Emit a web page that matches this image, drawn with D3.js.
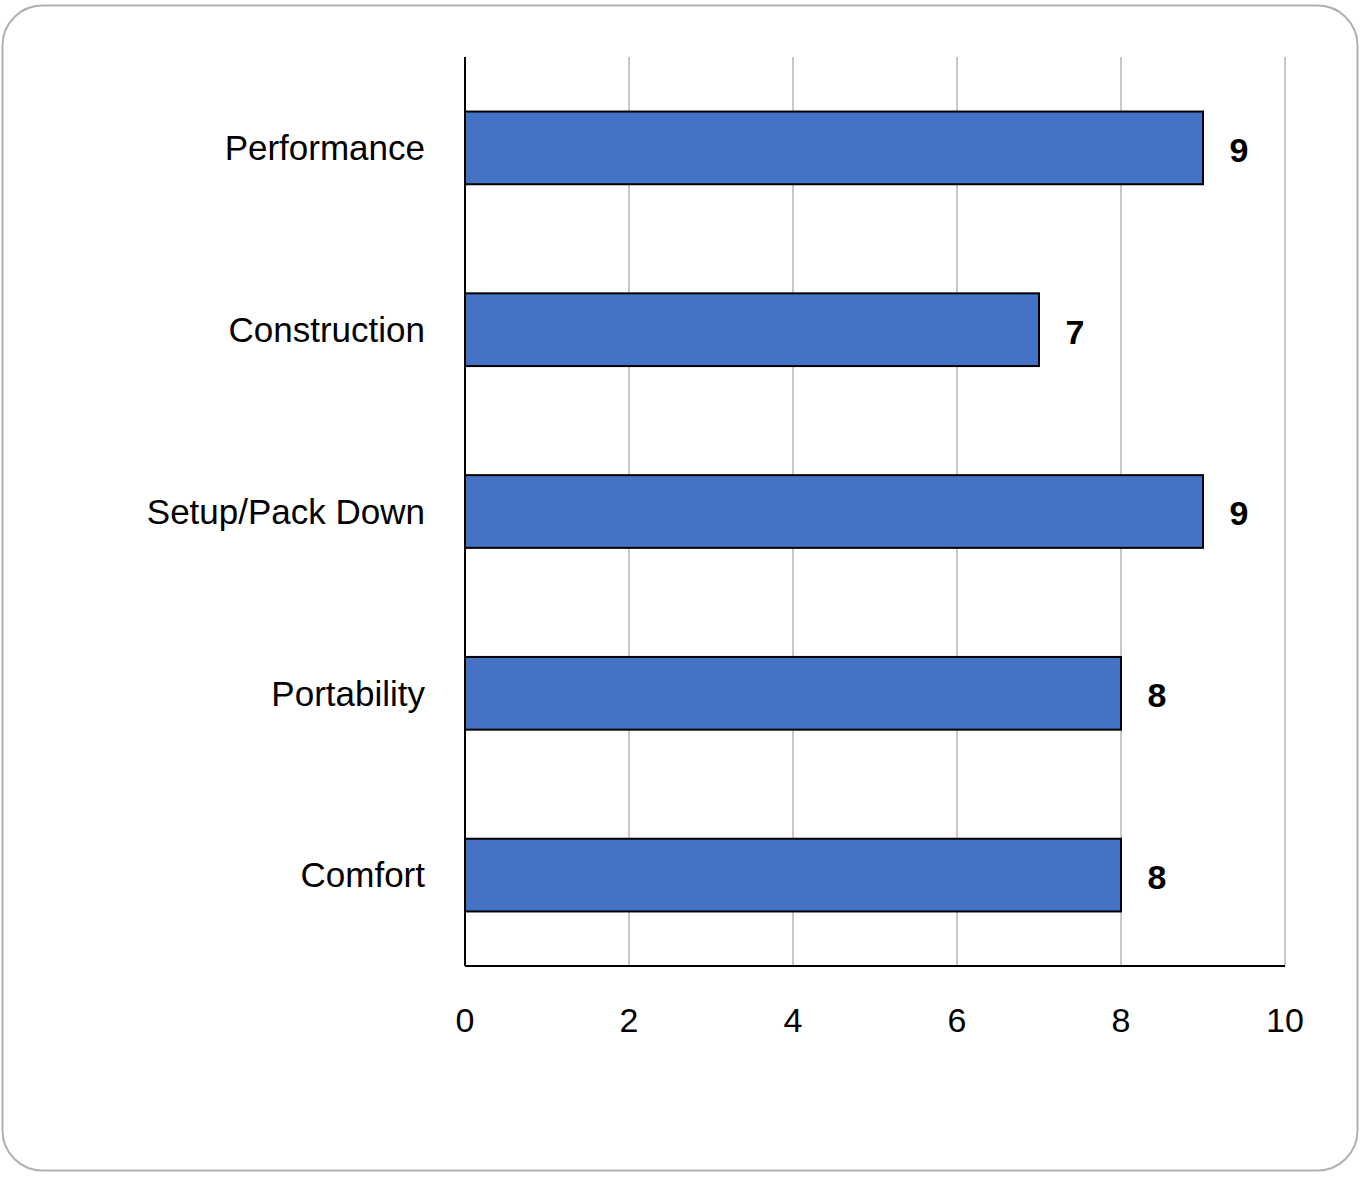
<!DOCTYPE html>
<meta charset="utf-8">
<style>
body { margin: 0; background: #fff; }
text { font-family: "Liberation Sans", Arial, sans-serif; fill: #000; }
</style>
<svg width="1365" height="1177"></svg>
<script src="https://d3js.org/d3.v7.min.js"></script>
<script>

var categories = ["Performance", "Construction", "Setup/Pack Down", "Portability", "Comfort"];
var values = [9, 7, 9, 8, 8];
var ticks = [0, 2, 4, 6, 8, 10];

var svg = d3.select("svg");

// outer frame
svg.append("rect")
    .attr("x", 2.5).attr("y", 5.5)
    .attr("width", 1355).attr("height", 1165)
    .attr("rx", 40).attr("ry", 40)
    .attr("fill", "#fff")
    .attr("stroke", "#b0b0b0")
    .attr("stroke-width", 2);

var x = d3.scaleLinear().domain([0, 10]).range([465, 1285]);
var y = d3.scaleBand().domain(categories).range([57, 966]).paddingInner(0.6).paddingOuter(0.3);

// gridlines
svg.append("g").selectAll("line")
    .data(ticks.slice(1))
    .enter().append("line")
      .attr("x1", function(d) { return x(d); })
      .attr("x2", function(d) { return x(d); })
      .attr("y1", 57).attr("y2", 966)
      .attr("stroke", "#c8c8c8")
      .attr("stroke-width", 2);

// axes lines
svg.append("line").attr("x1", 465).attr("x2", 465).attr("y1", 57).attr("y2", 966)
    .attr("stroke", "#000").attr("stroke-width", 2);
svg.append("line").attr("x1", 465).attr("x2", 1285).attr("y1", 966).attr("y2", 966)
    .attr("stroke", "#000").attr("stroke-width", 2);

// tick labels
svg.append("g").selectAll("text")
    .data(ticks)
    .enter().append("text")
      .attr("x", function(d) { return x(d); })
      .attr("y", 1032)
      .attr("text-anchor", "middle")
      .style("font-size", "34px")
      .text(function(d) { return d; });

// bars
svg.append("g").selectAll("rect")
    .data(categories)
    .enter().append("rect")
      .attr("x", x(0))
      .attr("y", function(d) { return y(d); })
      .attr("width", function(d, i) { return x(values[i]) - x(0); })
      .attr("height", y.bandwidth())
      .attr("fill", "#4472c4")
      .attr("stroke", "#000")
      .attr("stroke-width", 2);

// category labels
svg.append("g").selectAll("text")
    .data(categories)
    .enter().append("text")
      .attr("x", 425)
      .attr("y", function(d) { return y(d) + y.bandwidth() / 2; })
      .attr("dy", "0.35em")
      .attr("text-anchor", "end")
      .style("font-size", "35px")
      .text(function(d) { return d; });

// value labels
svg.append("g").selectAll("text")
    .data(categories)
    .enter().append("text")
      .attr("x", function(d, i) { return x(values[i]) + 36; })
      .attr("y", function(d) { return y(d) + y.bandwidth() / 2 + 2; })
      .attr("dy", "0.35em")
      .attr("text-anchor", "middle")
      .style("font-size", "34px")
      .style("font-weight", "bold")
      .text(function(d, i) { return values[i]; });

</script>
